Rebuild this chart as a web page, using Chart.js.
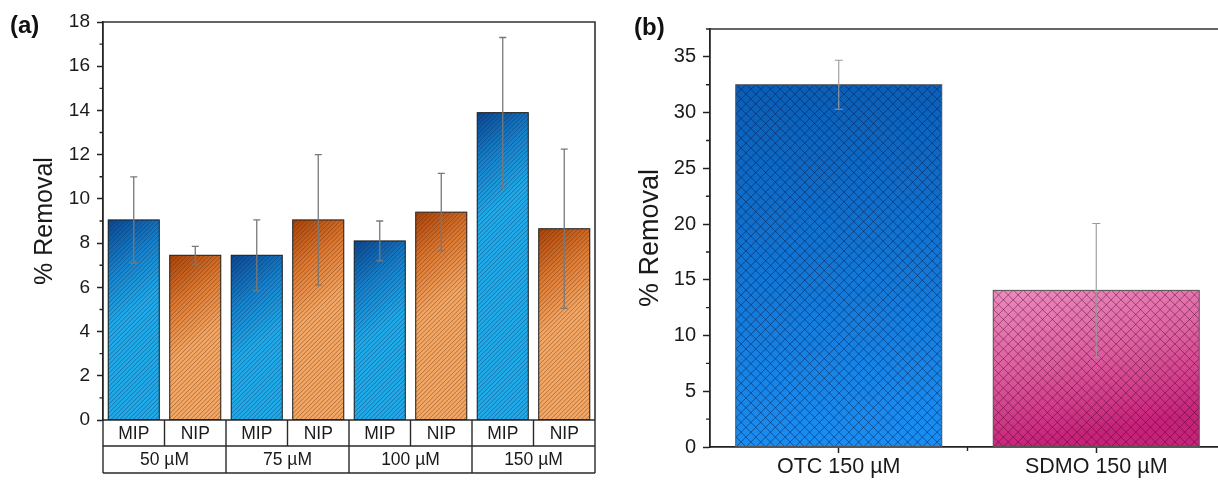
<!DOCTYPE html>
<html><head><meta charset="utf-8">
<script src="https://cdn.jsdelivr.net/npm/chart.js@4.4.1/dist/chart.umd.min.js"></script>
<style>
html,body{margin:0;padding:0;background:#fff;overflow:hidden;width:1218px;height:482px;position:relative;}
#ca{position:absolute;left:0;top:0;}
#cb{position:absolute;left:610px;top:0;}
.tag{position:absolute;font:bold 24px "Liberation Sans",Arial,sans-serif;line-height:1;color:#111;}
</style></head><body>
<canvas id="ca" width="610" height="482"></canvas>
<canvas id="cb" width="620" height="482"></canvas>
<div class="tag" style="left:10px;top:13px">(a)</div>
<div class="tag" style="left:634px;top:15px">(b)</div>
<script>
// ---- Panel (a) data ----
const concentrations = ['50 µM', '75 µM', '100 µM', '150 µM'];
const materials = ['MIP', 'NIP'];
const mipRemoval = [9.05, 7.45, 8.1, 13.9];
const mipError   = [1.95, 1.6, 0.9, 3.4];
const nipRemoval = [7.45, 9.05, 9.4, 8.65];
const nipError   = [0.4, 2.95, 1.75, 3.6];
const yTicksA = [0, 2, 4, 6, 8, 10, 12, 14, 16, 18];
const yMinorA = [1, 3, 5, 7, 9, 11, 13, 15, 17];

// ---- Panel (b) data ----
const compounds = ['OTC 150 µM', 'SDMO 150 µM'];
const removalB = [32.5, 14.05];
const errorB   = [2.2, 6.0];
const yTicksB = [0, 5, 10, 15, 20, 25, 30, 35];
const yMinorB = [2.5, 7.5, 12.5, 17.5, 22.5, 27.5, 32.5, 37.5];

const FONT = '"Liberation Sans", Arial, sans-serif';
const TXT = '#1a1a1a';
const subLabels = [];
concentrations.forEach(() => materials.forEach(m => subLabels.push(m)));

function paintBar(ctx, el, art) {
  const p = el.getProps(['x', 'y', 'base', 'width'], true);
  const L = p.x - p.width / 2, w = p.width;
  const T = Math.min(p.y, p.base), B = Math.max(p.y, p.base), h = B - T;
  ctx.save();
  ctx.beginPath(); ctx.rect(L, T, w, h); ctx.clip();
  const g = art.diag ? ctx.createLinearGradient(L, T, L + w * art.diag[0], T + w * art.diag[1])
                     : ctx.createLinearGradient(L, T, L + w * 0.15, B);
  art.stops.forEach(([o, c]) => g.addColorStop(o, c));
  ctx.fillStyle = g; ctx.fillRect(L, T, w, h);
  ctx.strokeStyle = art.lineColor; ctx.lineWidth = art.lineWidth;
  ctx.beginPath();
  const s = art.spacing;
  for (let k = -h - s; k <= w + h + s; k += s) { ctx.moveTo(L + k, B); ctx.lineTo(L + k + h + 2, B - h - 2); }
  if (art.cross) for (let k = -h - s; k <= w + h + s; k += s) { ctx.moveTo(L + k, T); ctx.lineTo(L + k + h + 2, T + h + 2); }
  ctx.stroke();
  ctx.restore();
  ctx.save();
  ctx.strokeStyle = art.border; ctx.lineWidth = art.borderWidth;
  ctx.strokeRect(L, T, w, h);
  ctx.restore();
}

const barArt = {
  id: 'barArt',
  afterDatasetDraw(chart, args) {
    const ds = chart.data.datasets[args.index];
    if (!ds.art) return;
    args.meta.data.forEach((el, i) => {
      const art = Array.isArray(ds.art) ? ds.art[i] : ds.art;
      paintBar(chart.ctx, el, art);
    });
  }
};

const errorBars = {
  id: 'errorBars',
  afterDatasetsDraw(chart) {
    const ctx = chart.ctx;
    chart.data.datasets.forEach((ds, di) => {
      if (!ds.errors) return;
      const meta = chart.getDatasetMeta(di);
      const ys = chart.scales[meta.yAxisID];
      meta.data.forEach((el, j) => {
        const v = ds.data[j], e = ds.errors[j];
        const yt = ys.getPixelForValue(v + e), yb = ys.getPixelForValue(v - e);
        const x = el.x, c = ds.errStyle.cap;
        ctx.save();
        ctx.strokeStyle = ds.errStyle.color; ctx.lineWidth = ds.errStyle.width;
        ctx.beginPath();
        ctx.moveTo(x, yt); ctx.lineTo(x, yb);
        ctx.moveTo(x - c, yt); ctx.lineTo(x + c, yt);
        ctx.moveTo(x - c, yb); ctx.lineTo(x + c, yb);
        ctx.stroke();
        ctx.restore();
      });
    });
  }
};

function minorTicks(ctx, scale, values, len, left) {
  ctx.beginPath();
  values.forEach(v => {
    const y = scale.getPixelForValue(v);
    ctx.moveTo(left, y); ctx.lineTo(left - len, y);
  });
  ctx.stroke();
}

const frameA = {
  id: 'frameA',
  afterDraw(chart) {
    const ctx = chart.ctx, a = chart.chartArea;
    const xs = chart.scales.xSub, xg = chart.scales.x, y = chart.scales.y;
    ctx.save();
    ctx.strokeStyle = '#333'; ctx.lineWidth = 1.6;
    ctx.beginPath();
    ctx.moveTo(a.left, a.top); ctx.lineTo(a.right, a.top); ctx.lineTo(a.right, a.bottom);
    ctx.stroke();
    ctx.strokeStyle = '#2a2a2a'; ctx.lineWidth = 1.4;
    ctx.beginPath();
    [a.bottom, xs.bottom, xg.bottom].forEach(yy => { ctx.moveTo(a.left, yy); ctx.lineTo(a.right, yy); });
    ctx.moveTo(a.left, a.bottom); ctx.lineTo(a.left, xg.bottom);
    ctx.moveTo(a.right, a.bottom); ctx.lineTo(a.right, xg.bottom);
    for (let i = 0; i < subLabels.length - 1; i++) {
      const xx = xs.getPixelForValue(i + 0.5);
      const groupEdge = (i % materials.length) === materials.length - 1;
      ctx.moveTo(xx, a.bottom); ctx.lineTo(xx, groupEdge ? xg.bottom : xs.bottom);
    }
    ctx.stroke();
    ctx.strokeStyle = '#222'; ctx.lineWidth = 1.4;
    minorTicks(ctx, y, yMinorA, 3.5, a.left);
    ctx.restore();
  }
};

const frameB = {
  id: 'frameB',
  afterDraw(chart) {
    const ctx = chart.ctx, a = chart.chartArea;
    const x = chart.scales.x, y = chart.scales.y;
    ctx.save();
    ctx.strokeStyle = '#333'; ctx.lineWidth = 1.6;
    ctx.beginPath();
    ctx.moveTo(a.left, a.top); ctx.lineTo(a.right, a.top); ctx.lineTo(a.right, a.bottom);
    ctx.stroke();
    ctx.strokeStyle = '#222'; ctx.lineWidth = 1.4;
    minorTicks(ctx, y, yMinorB, 4, a.left);
    ctx.beginPath();
    for (let i = 0; i < compounds.length - 1; i++) {
      const xx = x.getPixelForValue(i + 0.5);
      ctx.moveTo(xx, a.bottom); ctx.lineTo(xx, a.bottom + 4);
    }
    ctx.stroke();
    ctx.restore();
  }
};

Chart.defaults.font.family = FONT;

new Chart(document.getElementById('ca'), {
  type: 'bar',
  data: {
    labels: concentrations,
    datasets: [
      { label: 'MIP', data: mipRemoval, errors: mipError, xAxisID: 'x', yAxisID: 'y',
        backgroundColor: '#22abe8', borderWidth: 0,
        errStyle: { color: '#787878', width: 1.3, cap: 3.5 },
        art: { diag: [1.0, 1.4], stops: [[0, '#0d4690'], [0.5, '#1782cb'], [1, '#21aae8']],
               lineColor: 'rgba(8,40,90,0.45)', lineWidth: 0.9, spacing: 4.4, border: '#1b1b1b', borderWidth: 1 } },
      { label: 'NIP', data: nipRemoval, errors: nipError, xAxisID: 'x', yAxisID: 'y',
        backgroundColor: '#f2a462', borderWidth: 0,
        errStyle: { color: '#787878', width: 1.3, cap: 3.5 },
        art: { diag: [1.0, 1.4], stops: [[0, '#a8430a'], [0.5, '#dd7a33'], [1, '#f3a765']],
               lineColor: 'rgba(90,35,0,0.45)', lineWidth: 0.9, spacing: 4.4, border: '#1b1b1b', borderWidth: 1 } }
    ]
  },
  options: {
    responsive: false, animation: false, events: [],
    layout: { padding: { left: 26, right: 15, top: 22, bottom: 9 } },
    plugins: { legend: { display: false }, tooltip: { enabled: false } },
    datasets: { bar: { categoryPercentage: 1.0, barPercentage: 0.83 } },
    scales: {
      x: {
        type: 'category', position: 'bottom', weight: 2, offset: true,
        afterFit(s) { s.height = 27; },
        grid: { display: false, drawTicks: false }, border: { display: false },
        ticks: { font: { size: 17.5 }, color: TXT, padding: 4, autoSkip: false, maxRotation: 0 }
      },
      xSub: {
        type: 'category', position: 'bottom', weight: 1, labels: subLabels, offset: true,
        afterFit(s) { s.height = 26; },
        grid: { display: false, drawTicks: false }, border: { display: false },
        ticks: { font: { size: 17.5 }, color: TXT, padding: 3.5, autoSkip: false, maxRotation: 0 }
      },
      y: {
        min: 0, max: 18,
        afterFit(s) { s.width = 77; },
        afterBuildTicks(s) { s.ticks = yTicksA.map(v => ({ value: v })); },
        ticks: { font: { size: 19 }, color: TXT, padding: 7 },
        grid: { drawOnChartArea: false, drawTicks: true, tickLength: 6, tickColor: '#222', tickWidth: 1.5 },
        border: { display: true, color: '#222', width: 1.8 },
        title: { display: true, text: '% Removal', font: { size: 25 }, color: TXT, padding: { top: 4, bottom: 4 } }
      }
    }
  },
  plugins: [barArt, errorBars, frameA]
});

new Chart(document.getElementById('cb'), {
  type: 'bar',
  data: {
    labels: compounds,
    datasets: [
      { label: '% Removal', data: removalB, errors: errorB, backgroundColor: ['#1589ee', '#d04a8e'], borderWidth: 0,
        errStyle: { color: '#999', width: 1.1, cap: 4 },
        art: [
          { stops: [[0, '#0a5db5'], [1, '#1a8df2']], lineColor: 'rgba(5,25,70,0.55)', lineWidth: 0.9, spacing: 9.8, cross: true, border: '#555', borderWidth: 1 },
          { stops: [[0, '#ec8bbf'], [0.5, '#dc5f9f'], [1, '#c7227a']], lineColor: 'rgba(70,0,35,0.5)', lineWidth: 0.9, spacing: 9.8, cross: true, border: '#555', borderWidth: 1 }
        ] }
    ]
  },
  options: {
    responsive: false, animation: false, events: [],
    layout: { padding: { left: 20, right: 5, top: 29, bottom: 0 } },
    plugins: { legend: { display: false }, tooltip: { enabled: false } },
    datasets: { bar: { categoryPercentage: 1.0, barPercentage: 0.8 } },
    scales: {
      x: {
        offset: true,
        afterFit(s) { s.height = 35; },
        grid: { drawOnChartArea: false, drawTicks: true, tickLength: 6, tickColor: '#222', tickWidth: 1.5, offset: false },
        border: { display: true, color: '#222', width: 1.8 },
        ticks: { font: { size: 21.5 }, color: TXT, padding: 1.5, autoSkip: false, maxRotation: 0 }
      },
      y: {
        min: 0, max: 37.5,
        afterFit(s) { s.width = 80; },
        afterBuildTicks(s) { s.ticks = yTicksB.map(v => ({ value: v })); },
        ticks: { font: { size: 20 }, color: TXT, padding: 7 },
        grid: { drawOnChartArea: false, drawTicks: true, tickLength: 7, tickColor: '#222', tickWidth: 1.5 },
        border: { display: true, color: '#222', width: 1.8 },
        title: { display: true, text: '% Removal', font: { size: 27 }, color: TXT, padding: { top: 4, bottom: 4 } }
      }
    }
  },
  plugins: [barArt, errorBars, frameB]
});
</script>
</body></html>
